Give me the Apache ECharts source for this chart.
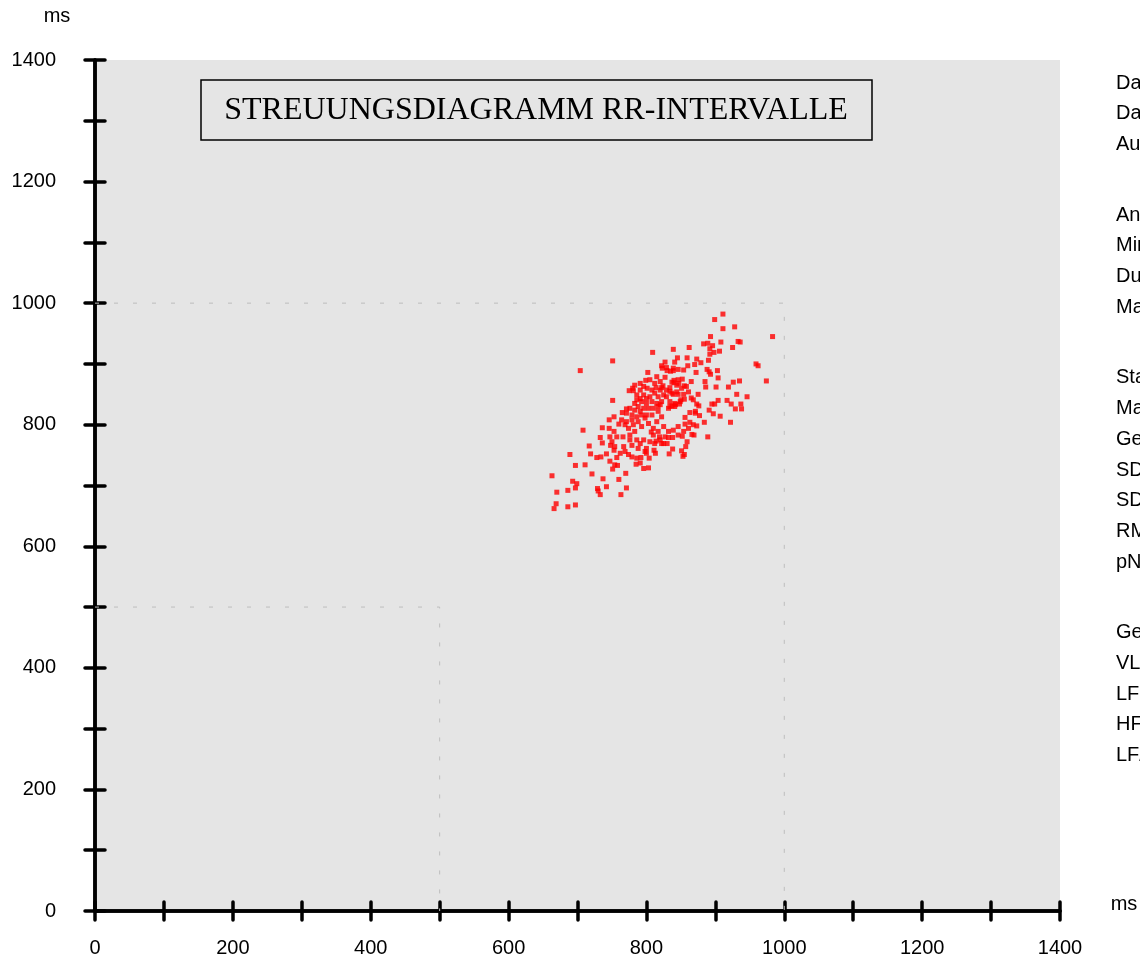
<!DOCTYPE html>
<html>
<head>
<meta charset="utf-8">
<script src="https://cdn.jsdelivr.net/npm/echarts@6/dist/echarts.min.js"></script>
<style>
  html, body { margin: 0; padding: 0; background: #fff; }
  #chart { width: 1140px; height: 960px; }
</style>
</head>
<body>
<div id="chart"></div>
<script>
// RR(n) on x, RR(n+1) on y, in ms
var rrPoints = [
  [911,982],[899,973],[911,958],[928,961],[983,945],[893,945],[908,936],[883,933],[889,934],[896,930],
  [933,937],[936,936],[925,927],[862,927],[839,924],[809,919],[892,925],[898,919],[906,921],[892,916],
  [890,906],[873,908],[879,902],[870,899],[859,910],[845,910],[841,903],[827,903],[751,905],[704,889],
  [959,900],[962,897],[903,889],[888,891],[891,887],[893,883],[872,886],[860,897],[822,897],[823,893],
  [830,889],[835,888],[839,889],[846,891],[854,890],[802,886],[904,877],[885,871],[926,870],[935,872],
  [919,862],[901,862],[886,862],[865,871],[852,875],[840,873],[827,878],[820,871],[799,873],[840,869],
  [847,868],[834,861],[824,864],[814,861],[801,860],[780,860],[775,856],[781,856],[974,872],[946,846],
  [931,850],[917,840],[904,840],[923,834],[937,834],[938,826],[929,826],[899,834],[895,834],[891,824],
  [897,818],[907,814],[922,804],[884,804],[889,780],[875,850],[861,854],[855,864],[865,844],[855,842],
  [850,841],[848,834],[842,833],[837,831],[834,830],[876,831],[873,834],[877,815],[871,822],[871,819],
  [863,820],[873,798],[863,804],[856,812],[856,801],
  [751,840],[708,791],[736,795],[746,808],[753,813],[765,820],[771,826],[733,779],[717,765],[736,770],
  [748,766],[753,758],[767,764],[779,766],[689,751],[719,752],[728,746],[734,747],[742,752],[747,740],
  [757,746],[758,733],[751,727],[697,733],[711,734],[721,719],[770,720],[663,716],[693,707],[699,703],
  [697,696],[737,711],[760,710],[742,698],[771,696],[729,695],[730,691],[733,685],[763,685],[670,689],
  [686,692],[669,670],[666,662],[686,665],[697,668],[774,751],[785,735],[791,737],[796,728],[803,729],
  [792,746],[800,753],[804,745],[811,758],[813,753],[833,752],[838,760],[853,748],[855,751],[851,757],
  [859,772],[857,764],[869,783],[866,784],[852,781],[846,783],[838,779],[832,779],[825,769],[830,769],
  [822,769],[814,773],[819,780],[810,783],[807,788],
  [746,794],[753,789],[760,801],[769,800],[774,794],[781,800],[788,805],[798,811],[808,816],[817,822],
  [822,813],[815,805],[803,802],[793,797],[783,789],[776,783],[766,780],[757,780],[747,780],[750,772],
  [754,764],[788,761],[798,756],[800,761],[779,747],[786,745],[754,734],
  [829,894],[839,893],[837,870],[846,874],[844,865],[834,855],[839,850],[846,850],[854,850],[829,846],
  [822,861],[825,849],[834,838],[841,835],[849,838],[868,841],[820,833],[832,827],[841,830],
  [786,849],[791,843],[796,849],[800,843],[805,846],[812,852],[817,846],[822,838],[815,835],[808,838],
  [800,835],[793,838],[786,841],[788,830],[796,827],[803,827],[810,827],[817,830],[791,822],[783,824],
  [779,816],[786,813],[793,816],[800,816],[783,835],[776,827],[771,819],[764,808],[771,805],[779,808],
  [810,794],[817,789],[825,797],[832,789],[839,791],[846,797],[854,789],[861,794],[868,800],[827,780],
  [820,775],[812,769],[805,772],[796,775],[791,769],[786,775],[776,775],[769,756],[762,753],
  [805,874],[812,868],[815,879],[791,857],[796,863],[808,857],[820,857],[829,857],[837,852],[844,854],
  [851,860],[858,863],[783,865],[791,868]
];

// dotted reference squares
var guide1000 = [[0,1000],[1000,1000],[1000,0]];
var guide500 = [[0,500],[500,500],[500,0]];

var axisMin = 0;
var axisMax = 1400;
var tickStep = 100;
var labelStep = 200;
var unitLabel = 'ms';
var titleText = 'STREUUNGSDIAGRAMM RR-INTERVALLE';

// report text on the right (cut off by the page edge)
var sideGroups = [
  ['Datum:', 'Dauer:', 'Auswertung:'],
  ['Anzahl Schläge:', 'Minimum RR:', 'Durchschnitt RR:', 'Maximum RR:'],
  ['Statistik:', 'Max/Min:', 'Geom. Mittel:', 'SDNN:', 'SDANN:', 'RMSSD:', 'pNN50:'],
  ['Gesamtleistung:', 'VLF:', 'LF:', 'HF:', 'LF/HF:']
];

var chart = echarts.init(document.getElementById('chart'));
var font = '"Liberation Sans", Arial, sans-serif';

function makeAxis(pos, inside, showLabel, tickLen, margin) {
  return {
    type: 'value',
    position: pos,
    min: axisMin,
    max: axisMax,
    interval: tickStep,
    splitLine: { show: false },
    axisLine: { show: true, onZero: false, lineStyle: { color: '#000', width: 3.5 } },
    axisTick: { show: true, inside: inside, length: tickLen,
      lineStyle: { color: '#000', width: 3.5, cap: 'round' } },
    axisLabel: {
      show: showLabel,
      margin: margin,
      color: '#000',
      fontSize: 20,
      fontFamily: font,
      formatter: function (v) { return v % labelStep === 0 ? String(v) : ''; }
    }
  };
}

var sideText = [];
var row = 0;
sideGroups.forEach(function (group, g) {
  group.forEach(function (label) {
    sideText.push({
      type: 'text',
      left: 1116,
      top: 84 + row * 30.7 + g * 40 - 11,
      style: { text: label, fill: '#000', font: '20px ' + font }
    });
    row++;
  });
});

var option = {
  animation: false,
  backgroundColor: '#fff',
  grid: {
    left: 95, right: 80, top: 60, bottom: 49,
    show: true, backgroundColor: '#e5e5e5', borderWidth: 0
  },
  xAxis: [
    makeAxis('bottom', false, true, 9, 27),
    makeAxis('bottom', true, false, 9, 0)
  ],
  yAxis: [
    makeAxis('left', false, true, 10, 39),
    makeAxis('left', true, false, 10, 0)
  ],
  graphic: [
    {
      type: 'rect',
      shape: { x: 201, y: 80, width: 671, height: 60 },
      style: { fill: '#e5e5e5', stroke: '#000', lineWidth: 1.5 },
      z: 10
    },
    {
      type: 'text',
      x: 536, y: 111,
      style: { text: titleText, fill: '#000', font: '32px "Liberation Serif", "Times New Roman", serif',
        align: 'center', verticalAlign: 'middle' },
      z: 11
    },
    {
      type: 'text',
      x: 57, y: 16,
      style: { text: unitLabel, fill: '#000', font: '20px ' + font, align: 'center', verticalAlign: 'middle' }
    },
    {
      type: 'text',
      x: 1124, y: 904,
      style: { text: unitLabel, fill: '#000', font: '20px ' + font, align: 'center', verticalAlign: 'middle' }
    }
  ].concat(sideText),
  series: [
    {
      type: 'line',
      data: guide1000,
      symbol: 'none',
      silent: true,
      lineStyle: { color: '#bdbdbd', width: 1, type: [4, 15] },
      z: 1
    },
    {
      type: 'line',
      data: guide500,
      symbol: 'none',
      silent: true,
      lineStyle: { color: '#bdbdbd', width: 1, type: [4, 15] },
      z: 1
    },
    {
      type: 'scatter',
      data: rrPoints,
      symbol: 'rect',
      symbolSize: 5,
      itemStyle: { color: '#ff0000' },
      z: 3
    }
  ]
};

chart.setOption(option);
</script>
</body>
</html>
